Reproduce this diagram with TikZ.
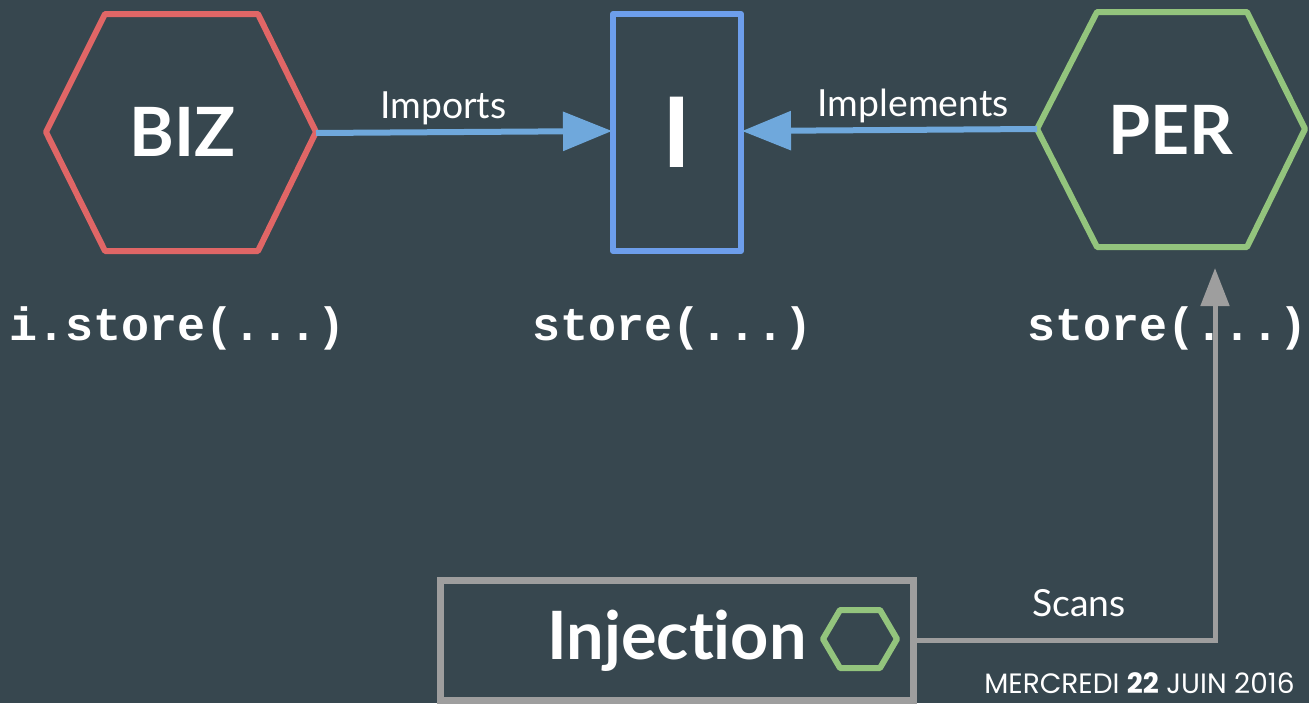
\documentclass[tikz,border=0pt]{standalone}
\usepackage{fontspec}
\setmainfont{Lato}[Ligatures=NoCommon]
\newfontfamily\codefont{Liberation Mono}
\newfontfamily\footfont{Poppins}
\usetikzlibrary{arrows.meta}
\definecolor{bg}{RGB}{55,71,79}
\definecolor{hexred}{RGB}{224,102,102}
\definecolor{boxblue}{RGB}{109,158,235}
\definecolor{arrblue}{RGB}{111,168,220}
\definecolor{hexgreen}{RGB}{147,196,125}
\definecolor{wiregray}{RGB}{158,158,158}
\tikzset{
  shapeline/.style={line width=4.5pt, line join=round},
  bigtxt/.style={text=white, font=\fontsize{51}{51}\selectfont\bfseries, inner sep=0pt},
  lbl/.style={text=white, font=\fontsize{28}{28}\selectfont, inner sep=0pt},
  code/.style={text=white, font=\fontsize{35}{35}\selectfont\codefont\bfseries, inner sep=0pt},
  blueArr/.style={draw=arrblue, line width=4.5pt, -{Triangle[length=36.75pt,width=28.5pt]}},
  grayArr/.style={draw=wiregray, line width=3.75pt, -{Triangle[length=28.5pt,width=21pt]}},
}
\begin{document}
\begin{tikzpicture}[x=0.75pt,y=-0.75pt]
\fill[bg] (0,0) rectangle (1309,703);
\useasboundingbox (0,0) rectangle (1309,703);

% BIZ hexagon
\draw[shapeline, hexred] (46,132) -- (105,14) -- (258,14) -- (316,132) -- (258,251) -- (105,251) -- cycle;
\node[bigtxt] (biz) at (183,132) {BIZ};
\coordinate (bizR) at (316,133);

% I box
\draw[shapeline, boxblue] (613,14) rectangle (741,251);
\node[text=white, font=\fontsize{73}{73}\selectfont\bfseries, inner sep=0pt] (iface) at (677,132) {I};
\coordinate (iL) at (612,131);
\coordinate (iR) at (742,131);

% PER hexagon
\draw[shapeline, hexgreen] (1037,129) -- (1097,12) -- (1247,12) -- (1305,129) -- (1247,247) -- (1097,247) -- cycle;
\node[bigtxt] (per) at (1171,130) {PER};
\coordinate (perL) at (1037,129);

% arrows
\draw[blueArr] (bizR) -- node[lbl, above=3pt, pos=0.43] (imp) {Imports} (iL);
\draw[blueArr] (perL) -- node[lbl, above=3pt, pos=0.42] (impl) {Implements} (iR);

% code labels
\node[code] (c1) at (178,328) {i.store(...)};
\node[code] (c2) at (673,328) {store(...)};
\node[code] (c3) at (1168,328) {store(...)};

% Injection box
\draw[line width=5.25pt, wiregray] (440,580) rectangle (913,700);
\node[text=white, font=\fontsize{50}{50}\selectfont\bfseries, inner sep=0pt] (inj) at (677,641) {Injection};
\draw[line width=4.5pt, hexgreen, line join=round] (823,639) -- (840,610) -- (880,610) -- (897,639) -- (880,668) -- (840,668) -- cycle;
\coordinate (injR) at (915,640);
\coordinate (corner) at (1215,640);
\coordinate (perB) at (1215,268);
\draw[grayArr] (injR) -- (corner) -- (perB);
\node[lbl] (scans) at (1079,603) {Scans};

% footer
\node[anchor=base west, text=white, font=\fontsize{21}{21}\selectfont\footfont, inner sep=0pt] (foot) at (984,693) {MERCREDI \textbf{22} JUIN 2016};
\end{tikzpicture}
\end{document}
